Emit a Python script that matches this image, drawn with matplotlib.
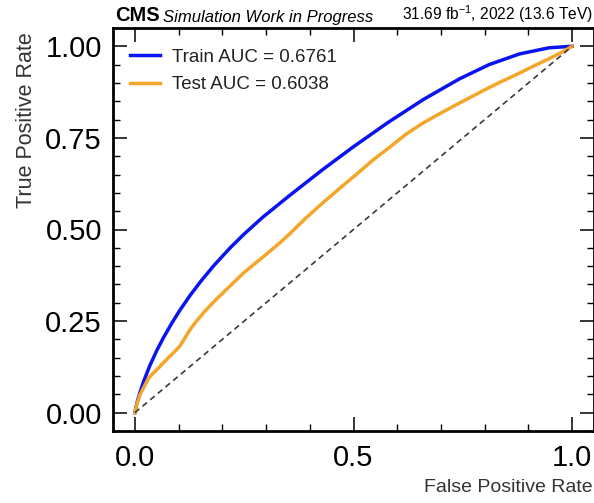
import matplotlib
matplotlib.use("Agg")
import matplotlib.pyplot as plt
from matplotlib.ticker import MultipleLocator

plt.rcParams["font.family"] = ["Liberation Sans", "DejaVu Sans"]
plt.rcParams["mathtext.fontset"] = "custom"
plt.rcParams["mathtext.rm"] = "Liberation Sans"

# ROC curves (false positive rate, true positive rate)
fpr_train = [0, 0.005, 0.011, 0.02, 0.034, 0.05, 0.065, 0.085, 0.103, 0.125, 0.15,
             0.18, 0.217, 0.25, 0.293, 0.354, 0.43, 0.5, 0.58, 0.66, 0.742, 0.81,
             0.879, 0.947, 1.0]
tpr_train = [0, 0.0275, 0.0527, 0.0851, 0.1278, 0.1694, 0.2039, 0.2455, 0.2797, 0.318,
             0.3575, 0.4007, 0.4488, 0.4877, 0.534, 0.593, 0.664, 0.726, 0.793, 0.855,
             0.911, 0.95, 0.979, 0.996, 1.0]

fpr_test = [0, 0.005, 0.012, 0.023, 0.032, 0.042, 0.055, 0.065, 0.08, 0.092, 0.103,
            0.115, 0.128, 0.141, 0.16, 0.185, 0.217, 0.25, 0.293, 0.33, 0.354, 0.39,
            0.43, 0.47, 0.506, 0.545, 0.582, 0.62, 0.658, 0.7, 0.742, 0.795, 0.835,
            0.871, 0.91, 0.947, 0.975, 1.0]
tpr_test = [0, 0.025, 0.05, 0.075, 0.095, 0.108, 0.123, 0.136, 0.154, 0.168, 0.182,
            0.205, 0.23, 0.25, 0.277, 0.308, 0.345, 0.383, 0.425, 0.462, 0.488, 0.53,
            0.573, 0.614, 0.65, 0.69, 0.724, 0.76, 0.79, 0.818, 0.845, 0.878, 0.902,
            0.922, 0.945, 0.966, 0.983, 1.0]

auc_train = 0.6761
auc_test = 0.6038

chance = [0, 1]

fig = plt.figure(figsize=(5.94, 5.03), dpi=100)
ax = fig.add_axes([113 / 594, 72 / 503, 481 / 594, 403 / 503])

ax.plot(fpr_train, tpr_train, color="#0a14f0", lw=2.5, label=f"Train AUC = {auc_train:.4f}")
ax.plot(fpr_test, tpr_test, color="#f4a52a", lw=2.5, label=f"Test AUC = {auc_test:.4f}")
ax.plot(chance, chance, color="#3a3a3a", lw=1.2, ls=(0, (3.5, 2.5)))

ax.set_xlim(-0.05, 1.05)
ax.set_ylim(-0.05, 1.05)
ax.xaxis.set_major_locator(MultipleLocator(0.5))
ax.xaxis.set_minor_locator(MultipleLocator(0.1))
ax.yaxis.set_major_locator(MultipleLocator(0.25))
ax.yaxis.set_minor_locator(MultipleLocator(0.05))

for s in ax.spines.values():
    s.set_linewidth(2)
ax.tick_params(which="both", direction="in", top=True, right=True)
ax.tick_params(which="major", length=10, width=1.1, labelsize=21)
ax.tick_params(axis="x", which="major", pad=9)
ax.tick_params(axis="y", which="major", pad=8)
ax.tick_params(which="minor", length=5, width=1.0)

ax.set_xlabel("False Positive Rate", fontsize=14, color="#333333", loc="right")
ax.set_ylabel("True Positive Rate", fontsize=15.5, color="#333333", loc="top")
ax.xaxis.set_label_coords(0.997, -0.119)
ax.yaxis.set_label_coords(-0.157, 0.99)

ax.legend(loc="upper left", bbox_to_anchor=(-0.008, 1.0), frameon=False,
          fontsize=13.5, handlelength=1.6, borderaxespad=0.7, handletextpad=0.65,
          labelspacing=0.55, labelcolor="#222222")

ax.text(0.004, 1.008, "CMS", transform=ax.transAxes, fontsize=14.5, fontweight="bold",
        ha="left", va="bottom")
ax.text(0.103, 1.008, "Simulation Work in Progress", transform=ax.transAxes,
        fontsize=12, style="italic", ha="left", va="bottom")
ax.text(0.998, 1.008, r"31.69 fb$^{-1}$, 2022 (13.6 TeV)", transform=ax.transAxes,
        fontsize=11.2, ha="right", va="bottom")

fig.savefig("out.png", dpi=100)
